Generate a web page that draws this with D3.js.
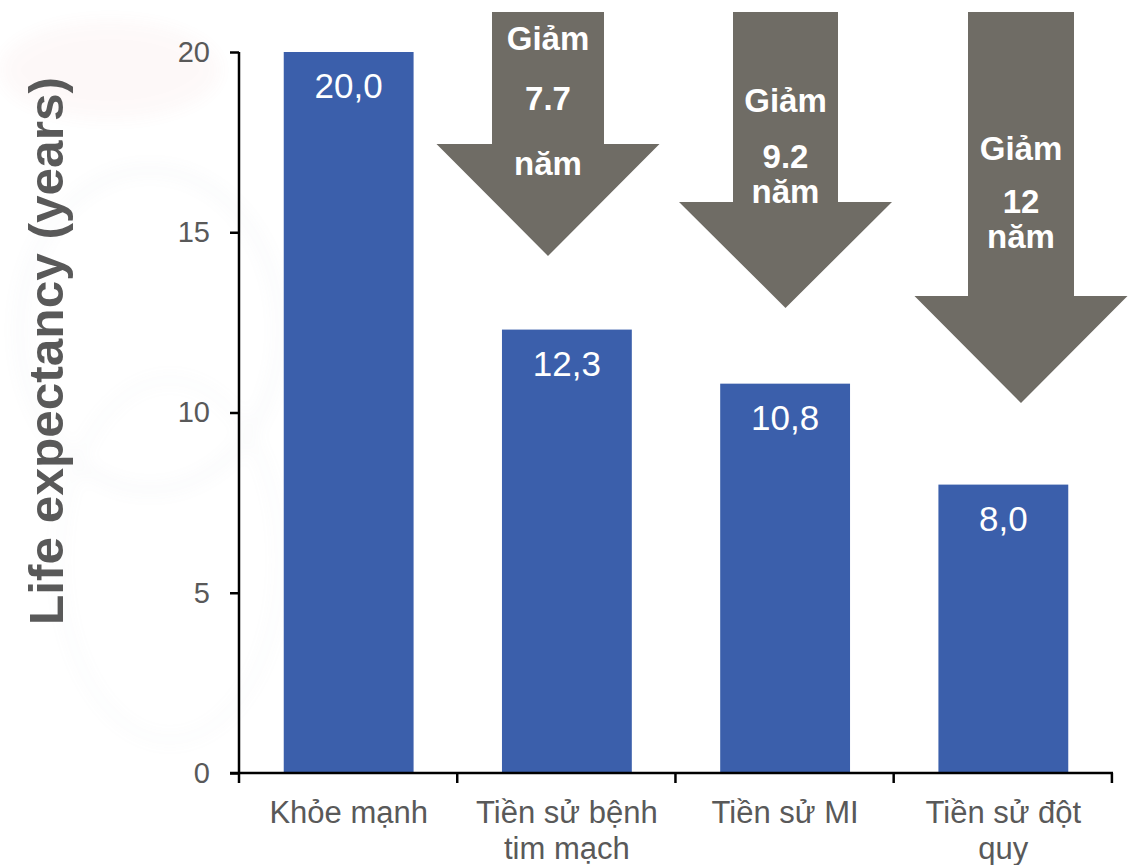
<!DOCTYPE html>
<html>
<head>
<meta charset="utf-8">
<script src="https://cdn.jsdelivr.net/npm/d3@7"></script>
<style>
  html, body { margin: 0; padding: 0; background: #ffffff; }
  svg { display: block; }
</style>
</head>
<body>
<svg id="chart" width="1135" height="865"></svg>
<script>
// ---- data ----
const categories = ["Khỏe mạnh", "Tiền sử bệnh tim mạch", "Tiền sử MI", "Tiền sử đột quy"];
const categoryLines = [["Khỏe mạnh"], ["Tiền sử bệnh", "tim mạch"], ["Tiền sử MI"], ["Tiền sử đột", "quy"]];
const values = [20.0, 12.3, 10.8, 8.0];
const valueLabels = ["20,0", "12,3", "10,8", "8,0"];
const yTicks = [0, 5, 10, 15, 20];
const reductionLabels = ["7.7", "9.2", "12"];
const reductionWord = ["Giảm", "năm"];
const yTitle = "Life expectancy (years)";

// ---- layout ----
const svg = d3.select("#chart");
const plot = { left: 239, right: 1113, top: 52, bottom: 773 };

const x = d3.scaleBand()
  .domain(categories)
  .range([plot.left, plot.right])
  .paddingInner(0.405)
  .paddingOuter(0.205);

const y = d3.scaleLinear().domain([0, 20]).range([plot.bottom, plot.top]);

const grey = "#595959";
const barColor = "#3b5fab";
const arrowColor = "#6f6c65";

// faint decorative backdrop on the left
const defs = svg.append("defs");
defs.append("filter").attr("id", "soft")
  .append("feGaussianBlur").attr("stdDeviation", 8);
const deco = svg.append("g").attr("filter", "url(#soft)").attr("opacity", 0.035);
deco.append("ellipse").attr("cx", 110).attr("cy", 70).attr("rx", 110).attr("ry", 50).attr("fill", "#d06060");
deco.append("ellipse").attr("cx", 150).attr("cy", 330).attr("rx", 130).attr("ry", 160).attr("fill", "none")
  .attr("stroke", "#7a8aa0").attr("stroke-width", 12);
deco.append("ellipse").attr("cx", 170).attr("cy", 560).attr("rx", 110).attr("ry", 180).attr("fill", "none")
  .attr("stroke", "#9aa5b5").attr("stroke-width", 10);

// ---- bars ----
const barData = categories.map((c, i) => ({ c, v: values[i], label: valueLabels[i] }));

svg.append("g").selectAll("rect")
  .data(barData).join("rect")
  .attr("x", d => x(d.c))
  .attr("width", x.bandwidth())
  .attr("y", d => y(d.v))
  .attr("height", d => y(0) - y(d.v))
  .attr("fill", barColor);

svg.append("g").selectAll("text")
  .data(barData).join("text")
  .attr("x", d => x(d.c) + x.bandwidth() / 2)
  .attr("y", d => y(d.v) + 46)
  .attr("text-anchor", "middle")
  .attr("font-family", "Liberation Sans, Arial, sans-serif")
  .attr("font-size", 35)
  .attr("fill", "#ffffff")
  .text(d => d.label);

// ---- axes ----
const yAxis = svg.append("g")
  .attr("transform", `translate(${plot.left},0)`)
  .call(d3.axisLeft(y).tickValues(yTicks).tickSize(9).tickPadding(20).tickFormat(d3.format("d")));
yAxis.select(".domain").attr("stroke", "#000").attr("stroke-width", 2.5).attr("d", `M0,${plot.top}V${plot.bottom}`);
yAxis.selectAll(".tick line").attr("stroke", "#000").attr("stroke-width", 2.5);
yAxis.selectAll(".tick text")
  .attr("font-family", "Liberation Sans, Arial, sans-serif")
  .attr("font-size", 29)
  .attr("fill", grey);

// x axis: ticks at band boundaries
const step = x.step();
const boundaries = d3.range(categories.length + 1).map(i => plot.left + i * step);
const xAxis = svg.append("g");
xAxis.append("line")
  .attr("x1", plot.left - 9).attr("x2", plot.right)
  .attr("y1", plot.bottom).attr("y2", plot.bottom)
  .attr("stroke", "#000").attr("stroke-width", 2.5);
xAxis.selectAll("line.tick").data(boundaries).join("line")
  .attr("class", "tick")
  .attr("x1", d => d).attr("x2", d => d)
  .attr("y1", plot.bottom).attr("y2", plot.bottom + 10)
  .attr("stroke", "#000").attr("stroke-width", 2.5);

const catLabels = xAxis.selectAll("text.cat").data(categories).join("text")
  .attr("class", "cat")
  .attr("text-anchor", "middle")
  .attr("font-family", "Liberation Sans, Arial, sans-serif")
  .attr("font-size", 31)
  .attr("fill", grey);
catLabels.each(function (d, i) {
  const cx = x(d) + x.bandwidth() / 2;
  d3.select(this).selectAll("tspan").data(categoryLines[i]).join("tspan")
    .attr("x", cx)
    .attr("y", (t, j) => 823 + j * 36)
    .text(t => t);
});

// y axis title
svg.append("text")
  .attr("transform", "translate(63,351) rotate(-90)")
  .attr("text-anchor", "middle")
  .attr("font-family", "Liberation Sans, Arial, sans-serif")
  .attr("font-weight", "bold")
  .attr("font-size", 48)
  .attr("textLength", 548)
  .attr("lengthAdjust", "spacingAndGlyphs")
  .attr("fill", grey)
  .text(yTitle);

// ---- reduction arrows ----
const arrowLayout = [
  { cx: 548, shaft: 112, head: 223, top: 12, neck: 144, tip: 256, lines: [50, 110, 175] },
  { cx: 785.5, shaft: 105, head: 213, top: 12, neck: 202, tip: 308, lines: [112, 168, 203] },
  { cx: 1021, shaft: 106, head: 213, top: 12, neck: 296, tip: 403, lines: [160, 213, 248] }
];

const arrows = svg.append("g").selectAll("g")
  .data(arrowLayout.map((a, i) => ({ ...a, amount: reductionLabels[i] })))
  .join("g");

arrows.append("path")
  .attr("fill", arrowColor)
  .attr("d", a => {
    const p = d3.path();
    p.moveTo(a.cx - a.shaft / 2, a.top);
    p.lineTo(a.cx + a.shaft / 2, a.top);
    p.lineTo(a.cx + a.shaft / 2, a.neck);
    p.lineTo(a.cx + a.head / 2, a.neck);
    p.lineTo(a.cx, a.tip);
    p.lineTo(a.cx - a.head / 2, a.neck);
    p.lineTo(a.cx - a.shaft / 2, a.neck);
    p.closePath();
    return p.toString();
  });

arrows.each(function (a) {
  const texts = [reductionWord[0], a.amount, reductionWord[1]];
  d3.select(this).selectAll("text").data(texts).join("text")
    .attr("x", a.cx)
    .attr("y", (t, j) => a.lines[j])
    .attr("text-anchor", "middle")
    .attr("font-family", "Liberation Sans, Arial, sans-serif")
    .attr("font-weight", "bold")
    .attr("font-size", 33)
    .attr("fill", "#ffffff")
    .text(t => t);
});
</script>
</body>
</html>
